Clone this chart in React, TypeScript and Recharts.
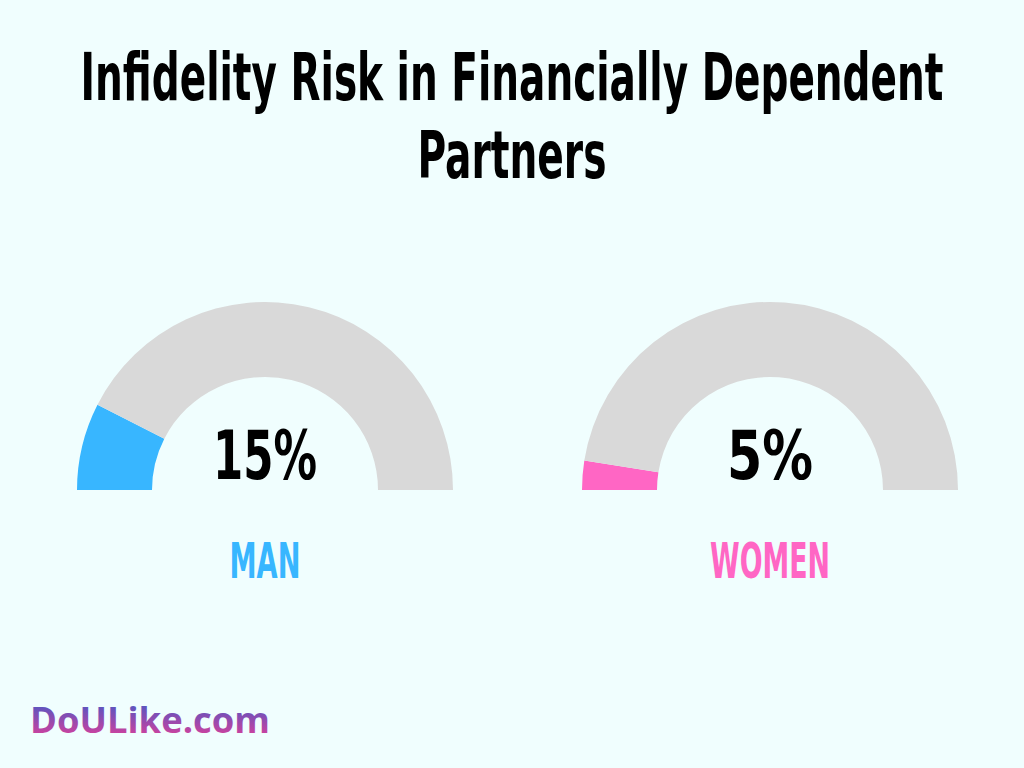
import { useLayoutEffect, useRef, useState } from 'react'
import { PieChart, Pie, Cell } from 'recharts'

const TITLE_LINES = ['Infidelity Risk in Financially Dependent', 'Partners']
const GROUPS = ['MAN', 'WOMEN']
const RISK = [15, 5]
const GROUP_COLORS = ['#38b6ff', '#ff66c4']
const REST_COLOR = '#d9d9d9'
const BG = '#f0fefe'

const CONDENSED = '"Liberation Sans Narrow", "DejaVu Sans Condensed", "Roboto", sans-serif'

// gauge geometry, one per group
const GAUGE_CX = [265, 770]
const GAUGE_CY = 490
const INNER_R = 113
const OUTER_R = 188

const PCT_WIDTH = [104, 86]
const LABEL_WIDTH = [71, 120]

function gaugeData(i: number) {
  return [
    { name: GROUPS[i], value: RISK[i] },
    { name: 'rest', value: 100 - RISK[i] },
  ]
}

type FitTextProps = {
  text: string
  x: number
  y: number
  width: number
  fontSize: number
  fill: string
  fontFamily?: string
  anchor?: 'start' | 'middle'
}

/** Text squeezed horizontally to a given width, so a wide font reads like a condensed display face. */
function FitText({ text, x, y, width, fontSize, fill, fontFamily = CONDENSED, anchor = 'middle' }: FitTextProps) {
  const ref = useRef<SVGTextElement>(null)
  const [scale, setScale] = useState(1)

  useLayoutEffect(() => {
    if (!ref.current) return
    const w = ref.current.getComputedTextLength()
    if (w > 0) setScale(width / w)
  }, [text, width, fontSize])

  return (
    <text
      ref={ref}
      transform={`translate(${x} ${y}) scale(${scale} 1)`}
      fontFamily={fontFamily}
      fontWeight="bold"
      fontSize={fontSize}
      fill={fill}
      textAnchor={anchor}
    >
      {text}
    </text>
  )
}

export default function App() {
  return (
    <div style={{ position: 'absolute', left: 0, top: 0, width: 1024, height: 768, background: BG }}>
      <PieChart
        width={1024}
        height={768}
        margin={{ top: 0, right: 0, bottom: 0, left: 0 }}
        style={{ position: 'absolute', left: 0, top: 0 }}
      >
        {GROUPS.map((g, i) => (
          <Pie
            key={g}
            data={gaugeData(i)}
            dataKey="value"
            cx={GAUGE_CX[i]}
            cy={GAUGE_CY}
            innerRadius={INNER_R}
            outerRadius={OUTER_R}
            startAngle={180}
            endAngle={0}
            stroke="none"
            isAnimationActive={false}
          >
            <Cell fill={GROUP_COLORS[i]} />
            <Cell fill={REST_COLOR} />
          </Pie>
        ))}
      </PieChart>

      <svg width={1024} height={768} style={{ position: 'absolute', left: 0, top: 0, pointerEvents: 'none' }}>
        <defs>
          <linearGradient id="logoGrad" x1="0" y1="0" x2="0" y2="1">
            <stop offset="0%" stopColor="#2f5ccc" />
            <stop offset="100%" stopColor="#f03c94" />
          </linearGradient>
        </defs>

        <FitText text={TITLE_LINES[0]} x={512} y={100} width={863} fontSize={66} fill="#000" />
        <FitText text={TITLE_LINES[1]} x={512} y={178} width={189} fontSize={66} fill="#000" />

        {GROUPS.map((g, i) => (
          <g key={g}>
            <FitText text={`${RISK[i]}%`} x={GAUGE_CX[i]} y={479} width={PCT_WIDTH[i]} fontSize={67} fill="#000" />
            <FitText text={g} x={GAUGE_CX[i]} y={578} width={LABEL_WIDTH[i]} fontSize={50} fill={GROUP_COLORS[i]} />
          </g>
        ))}

        <FitText
          text="DoULike.com"
          x={30}
          y={733}
          width={240}
          fontSize={36}
          fill="url(#logoGrad)"
          fontFamily='"Open Sans", "Noto Sans", sans-serif'
          anchor="start"
        />
      </svg>
    </div>
  )
}
